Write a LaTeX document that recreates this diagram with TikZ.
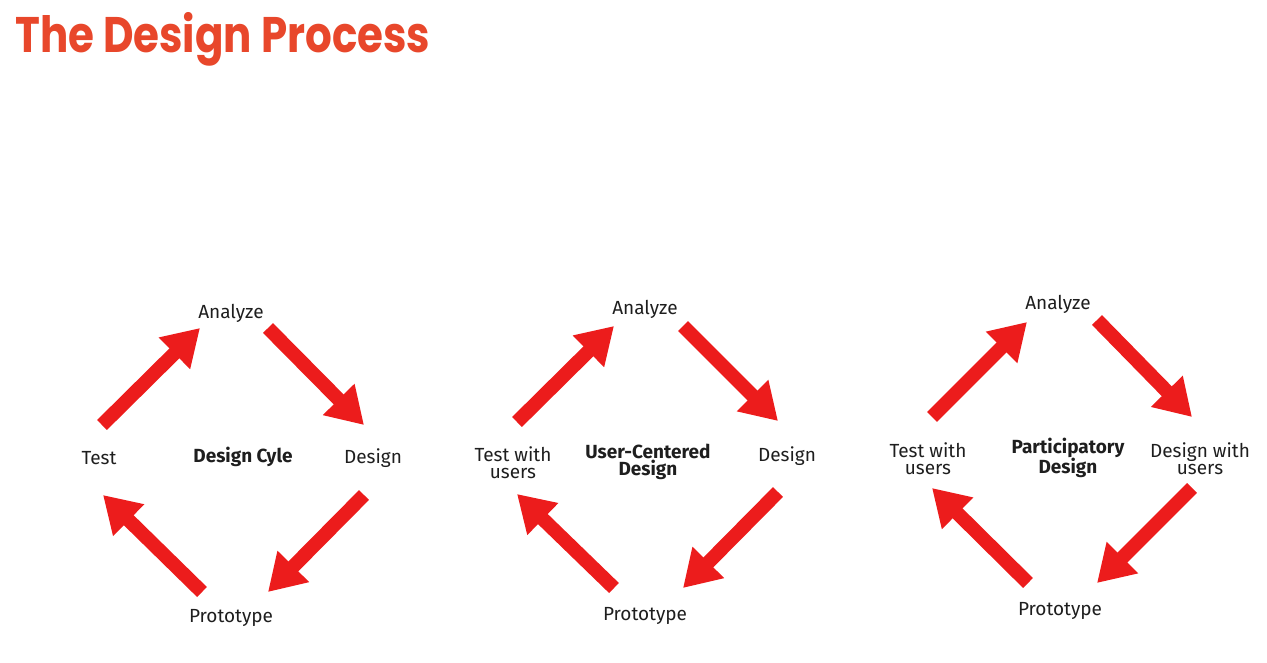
\documentclass[tikz,border=0pt]{standalone}
\usepackage{fontspec}
\setmainfont{Fira Sans}
\newfontfamily\titlefont{Poppins}
\usetikzlibrary{arrows.meta}
\definecolor{titlered}{HTML}{E8472B}
\definecolor{arrowred}{HTML}{EC1C1C}
\definecolor{labelgray}{HTML}{1E1E1E}
\tikzset{
  cyc/.style={line width=14pt, draw=arrowred, line cap=butt, -{Triangle[length=36pt,width=42pt,fill=arrowred]}},
  lbl/.style={font=\fontsize{19}{17}\selectfont, text=labelgray, align=center, inner sep=0pt, yshift=-2pt},
  ctr/.style={font=\fontsize{19}{17}\selectfont\bfseries, text=labelgray, align=center, inner sep=0pt, yshift=-1pt},
}
\begin{document}
\begin{tikzpicture}[x=1pt,y=-1pt]
\useasboundingbox (0,0) rectangle (1267,662);
\node[anchor=base west, inner sep=0pt, text=titlered, font=\titlefont\bfseries\fontsize{50}{50}\selectfont] (title) at (15,52) {\scalebox{0.84}[1]{The Design Process}};

% ---------- Diagram 1: Design Cycle ----------
\node[lbl] (a1) at (231,311) {Analyze};
\node[lbl] (t1) at (99,456) {Test};
\node[lbl] (d1) at (373,456) {Design};
\node[lbl] (p1) at (231,616) {Prototype};
\node[ctr] (c1) at (243,456) {Design Cyle};
\coordinate (ta1s) at (102,425); \coordinate (ta1e) at (200,328);
\coordinate (ad1s) at (268,328); \coordinate (ad1e) at (364,425);
\coordinate (dp1s) at (364,495); \coordinate (dp1e) at (268,592);
\coordinate (pt1s) at (202,592); \coordinate (pt1e) at (103,495);
\draw[cyc] (ta1s) -- (ta1e);
\draw[cyc] (ad1s) -- (ad1e);
\draw[cyc] (dp1s) -- (dp1e);
\draw[cyc] (pt1s) -- (pt1e);

% ---------- Diagram 2: User-Centered Design ----------
\node[lbl] (a2) at (645,307) {Analyze};
\node[lbl] (t2) at (513,461) {Test with\\users};
\node[lbl] (d2) at (787,454) {Design};
\node[lbl] (p2) at (645,614) {Prototype};
\node[ctr] (c2) at (648,461) {User-Centered\\Design};
\coordinate (ta2s) at (517,422); \coordinate (ta2e) at (614,326);
\coordinate (ad2s) at (683,326); \coordinate (ad2e) at (778,421);
\coordinate (dp2s) at (778,492); \coordinate (dp2e) at (683,588);
\coordinate (pt2s) at (614,588); \coordinate (pt2e) at (517,494);
\draw[cyc] (ta2s) -- (ta2e);
\draw[cyc] (ad2s) -- (ad2e);
\draw[cyc] (dp2s) -- (dp2e);
\draw[cyc] (pt2s) -- (pt2e);

% ---------- Diagram 3: Participatory Design ----------
\node[lbl] (a3) at (1058,302) {Analyze};
\node[lbl] (t3) at (928,457) {Test with\\users};
\node[lbl] (d3) at (1200,457) {Design with\\users};
\node[lbl] (p3) at (1060,609) {Prototype};
\node[ctr] (c3) at (1068,457) {Participatory\\Design};
\coordinate (ta3s) at (932,417); \coordinate (ta3e) at (1027,322);
\coordinate (ad3s) at (1097,320); \coordinate (ad3e) at (1192,417);
\coordinate (dp3s) at (1192,488); \coordinate (dp3e) at (1097,583);
\coordinate (pt3s) at (1028,583); \coordinate (pt3e) at (932,488);
\draw[cyc] (ta3s) -- (ta3e);
\draw[cyc] (ad3s) -- (ad3e);
\draw[cyc] (dp3s) -- (dp3e);
\draw[cyc] (pt3s) -- (pt3e);
\end{tikzpicture}
\end{document}
